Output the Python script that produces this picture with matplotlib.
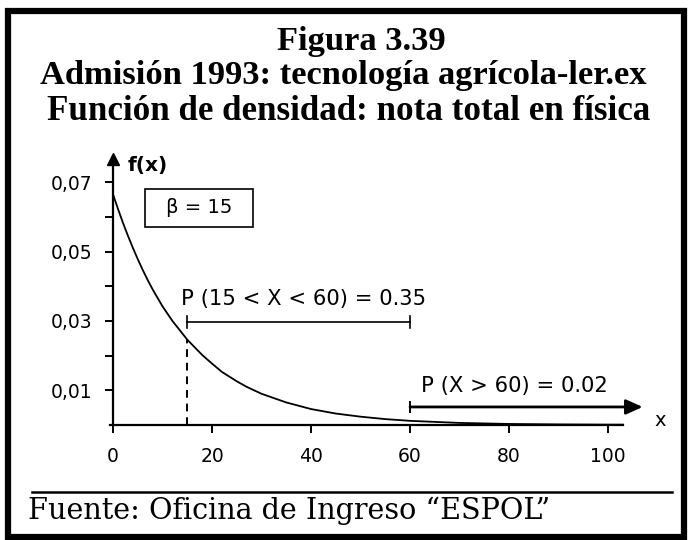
import numpy as np
import matplotlib
matplotlib.use('Agg')
from matplotlib import pyplot as plt
from matplotlib.patches import Rectangle

# values
x_vals = [0, 1, 2, 3, 4, 5, 6, 7, 8, 10, 12, 15, 18, 20, 22, 25, 27, 30, 35, 40, 45, 50,
          55, 60, 70, 80, 90, 100, 103]
fx_vals = [0.0665, 0.0623, 0.0583, 0.0546, 0.0511, 0.0478, 0.0447, 0.0418, 0.0391, 0.0342,
           0.0300, 0.0246, 0.0202, 0.0177, 0.0153, 0.0126, 0.0110, 0.0090, 0.0065, 0.0046,
           0.0033, 0.0024, 0.0017, 0.0012, 0.0006, 0.0003, 0.00017, 0.0001, 0.0001]
x_ticks = [0, 20, 40, 60, 80, 100]
y_ticks = [0.01, 0.03, 0.05, 0.07]
y_minor = [0.02, 0.04, 0.06]
y_labels = ['0,01', '0,03', '0,05', '0,07']
beta = 15
lim_low, lim_high = 15, 60
p_mid, p_tail = 0.35, 0.02

W, H = 690, 540


def fx(px):
    return px / W


def fy(py):
    return 1 - py / H


fig = plt.figure(figsize=(6.9, 5.4), dpi=100)
fig.patch.set_facecolor('white')

# outer frame
fig.add_artist(Rectangle((fx(8), fy(537)), fx(684 - 8), (537 - 11) / H, transform=fig.transFigure,
                         fill=False, lw=4.5, ec='black'))

serif = 'Liberation Serif'
fig.text(fx(361), fy(50), 'Figura 3.39', ha='center', va='baseline',
         family=serif, weight='bold', fontsize=24.8)
fig.text(fx(343), fy(84), 'Admisión 1993: tecnología agrícola-ler.ex', ha='center', va='baseline',
         family=serif, weight='bold', fontsize=24.8)
fig.text(fx(349), fy(120), 'Función de densidad: nota total en física', ha='center', va='baseline',
         family=serif, weight='bold', fontsize=25.2)

# footer
fig.add_artist(plt.Line2D([fx(32), fx(672)], [fy(492), fy(492)], transform=fig.transFigure,
                          color='black', lw=1.8))
fig.text(fx(28), fy(519), 'Fuente: Oficina de Ingreso \u201cESPOL\u201d', ha='left', va='baseline',
         family='DejaVu Serif', fontsize=20.6)

# plot area: x=0 at px 113, 4.95 px/unit; y=0 at py 425, 3470 px/unit
ax = fig.add_axes([fx(100), fy(430), 580 / W, 280 / H])
ax.set_xlim((100 - 113) / 4.95, (680 - 113) / 4.95)
ax.set_ylim((425 - 430) / 3470, (425 - 150) / 3470)
ax.patch.set_alpha(0)

for s in ['top', 'right']:
    ax.spines[s].set_visible(False)
ax.spines['left'].set_position(('data', 0))
ax.spines['bottom'].set_position(('data', 0))
ax.spines['left'].set_bounds(0, 0.076)
ax.spines['bottom'].set_bounds(-0.6, 103)
ax.spines['left'].set_linewidth(1.6)
ax.spines['bottom'].set_linewidth(1.6)

ax.set_xticks(x_ticks)
ax.set_xticklabels([str(t) for t in x_ticks])
ax.set_yticks(y_ticks)
ax.set_yticklabels(y_labels)
ax.set_yticks(y_minor, minor=True)
ax.tick_params(axis='both', which='both', direction='out', length=6, width=1.4,
               labelsize=13.5, color='black')
ax.tick_params(axis='x', pad=10)
ax.tick_params(axis='y', pad=9)
for lab in ax.get_xticklabels() + ax.get_yticklabels():
    lab.set_family('DejaVu Sans')

# y axis arrow head and label
ax.plot([0], [0.0768], marker='^', color='black', ms=9, clip_on=False)
ax.text(3.0, 0.0749, 'f(x)', ha='left', va='center', fontsize=14.5, weight='bold',
        family='DejaVu Sans')
ax.text(110.5, 0.0014, 'x', ha='center', va='center', fontsize=14, family='DejaVu Sans')

# density curve
ax.plot(x_vals, fx_vals, color='black', lw=1.3)

# dashed line at x = 15
ax.plot([lim_low, lim_low], [0, np.interp(lim_low, x_vals, fx_vals)], color='black',
        lw=1.4, ls=(0, (4, 3)))

# beta box
ax.add_patch(Rectangle((6.5, 0.0571), 21.8, 0.0110, fill=False, ec='black', lw=1.2))
ax.text(17.4, 0.0626, '\u03b2 = %d' % beta, ha='center', va='center', fontsize=14,
        family='DejaVu Sans')

# P(15 < X < 60) bracket
y_mid = 0.0297
ax.plot([lim_low, lim_high], [y_mid, y_mid], color='black', lw=1.2)
ax.plot([lim_low, lim_low], [y_mid - 0.0018, y_mid + 0.0018], color='black', lw=1.2)
ax.plot([lim_high, lim_high], [y_mid - 0.0018, y_mid + 0.0018], color='black', lw=1.2)
ax.text(13.8, 0.0362, 'P (%d < X < %d) = %.2f' % (lim_low, lim_high, p_mid), ha='left',
        va='center', fontsize=15.2, family='DejaVu Sans')

# P(X > 60) arrow
y_tail = 0.0052
ax.annotate('', xy=(107, y_tail), xytext=(lim_high, y_tail),
            arrowprops=dict(arrowstyle='-|>,head_length=1.0,head_width=0.45', color='black',
                            lw=2, shrinkA=0, shrinkB=0))
ax.plot([lim_high, lim_high], [y_tail - 0.0014, y_tail + 0.0014], color='black', lw=1.4)
ax.text(62.2, 0.0112, 'P (X > %d) = %.2f' % (lim_high, p_tail), ha='left', va='center',
        fontsize=15.2, family='DejaVu Sans')

fig.savefig('out.png', dpi=100)
